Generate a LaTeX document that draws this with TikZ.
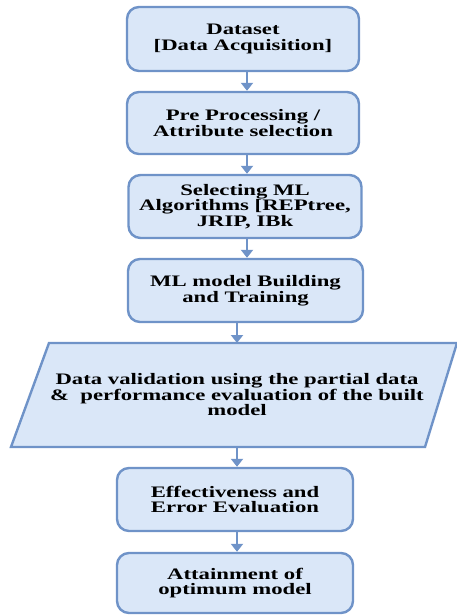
\documentclass[tikz,border=0pt]{standalone}
\usepackage{fontspec}
\newfontfamily\boxfont{Liberation Serif}[FakeStretch=1.42]
\usetikzlibrary{arrows.meta}
\definecolor{boxfill}{HTML}{DAE7F8}
\definecolor{boxline}{HTML}{6F93C8}
\begin{document}
\begin{tikzpicture}[x=1pt,y=-1pt,
  stepbox/.style={draw=boxline, fill=boxfill, line width=2.4pt, rounded corners=12pt,
    align=center, inner sep=0pt, font=\boxfont\bfseries\fontsize{16}{15.5}\selectfont},
  flow/.style={draw=boxline, line width=2pt, -{Triangle[width=12pt,length=8pt]}},
  txt/.style={align=center, inner sep=0pt, font=\boxfont\bfseries\fontsize{16}{15.5}\selectfont}]
\useasboundingbox (0,0) rectangle (457,615);
\node[stepbox, minimum width=232pt, minimum height=64pt] (b1) at (243,39) {Dataset\\{[}Data Acquisition]};
\node[stepbox, minimum width=232pt, minimum height=62pt] (b2) at (243,123) {Pre Processing /\\Attribute selection};
\node[stepbox, minimum width=233pt, minimum height=63pt] (b3) at (245,206.5) {Selecting ML\\Algorithms [REPtree,\\JRIP, IBk};
\node[stepbox, minimum width=235pt, minimum height=63pt] (b4) at (245.5,290.5) {ML model Building\\and Training};
\coordinate (p1) at (49,343);
\coordinate (p2) at (457,343);
\coordinate (p3) at (425,447);
\coordinate (p4) at (11,447);
\draw[draw=boxline, fill=boxfill, line width=2.4pt, line join=miter] (p1) -- (p2) -- (p3) -- (p4) -- cycle;
\node[txt] (p) at (237,395) {Data validation using the partial data\\\&\ \ performance evaluation of the built\\model};
\coordinate (ptop) at (237,343);
\coordinate (pbot) at (237,447);
\node[stepbox, minimum width=236pt, minimum height=63pt] (b6) at (235,499.5) {Effectiveness and\\Error Evaluation};
\node[stepbox, minimum width=236pt, minimum height=60pt] (b7) at (235,583) {Attainment of\\optimum model};
\coordinate (ax) at (247,0);
\coordinate (bx) at (237,0);
\draw[flow] (b1.south -| ax) -- (b2.north -| ax);
\draw[flow] (b2.south -| ax) -- (b3.north -| ax);
\draw[flow] (b3.south -| ax) -- (b4.north -| ax);
\draw[flow] (b4.south -| bx) -- (ptop);
\draw[flow] (pbot) -- (b6.north -| bx);
\draw[flow] (b6.south -| bx) -- (b7.north -| bx);
\end{tikzpicture}
\end{document}
